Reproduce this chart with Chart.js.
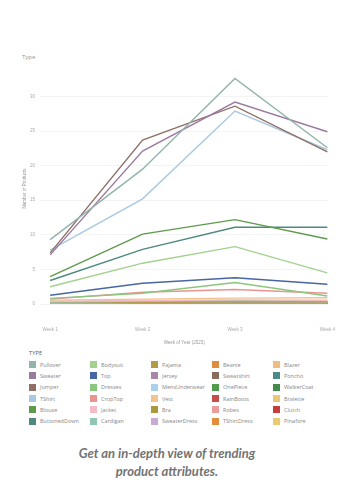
<!DOCTYPE html>
<html>
<head>
<meta charset="utf-8">
<script src="https://cdn.jsdelivr.net/npm/chart.js@4/dist/chart.umd.min.js"></script>
<style>
  html, body { margin: 0; padding: 0; background: #fff; }
  #page { position: relative; width: 350px; height: 483px; overflow: hidden; font-family: "Open Sans", sans-serif; }
  #chart-wrap { position: absolute; left: 0; top: 40px; width: 350px; height: 305px; }
  #type-title { position: absolute; left: 22px; top: 53px; font-size: 6px; color: #999; }
  #legend-head { position: absolute; left: 29px; top: 349px; font-size: 5.5px; color: #555; letter-spacing: 0.2px; }
  #legend { position: absolute; left: 29px; top: 359px; display: grid; grid-auto-flow: column;
            grid-template-rows: repeat(6, 11.3px); grid-template-columns: repeat(5, 61px); }
  .item { display: flex; align-items: center; font-size: 5.5px; color: #888; white-space: nowrap; }
  .sw { width: 7px; height: 7px; margin-right: 4px; flex: none; }
  #tagline { position: absolute; left: 0; width: 334px; top: 444px; text-align: center;
             font-family: Lato, sans-serif; font-weight: bold; font-style: italic; font-size: 13px;
             line-height: 18px; color: #737373; }
</style>
</head>
<body>
<div id="page">
  <div id="type-title">Type</div>
  <div id="chart-wrap"><canvas id="trendChart"></canvas></div>
  <div id="legend-head">TYPE</div>
  <div id="legend"></div>
  <div id="tagline">Get an in-depth view of trending<br>product attributes.</div>
</div>
<script>
// Week labels along the x axis
const weeks = ['Week 1', 'Week 2', 'Week 3', 'Week 4'];

// Product types, legend order (column by column)
const types = [
  'Pullover', 'Sweater', 'Jumper', 'TShirt', 'Blouse', 'ButtonedDown',
  'Bodysuit', 'Top', 'Dresses', 'CropTop', 'Jacket', 'Cardigan',
  'Pajama', 'Jersey', 'MensUnderwear', 'Vest', 'Bra', 'SweaterDress',
  'Beanie', 'Sweatshirt', 'OnePiece', 'RainBoots', 'Robes', 'TShirtDress',
  'Blazer', 'Poncho', 'WalkerCoat', 'Bralette', 'Clutch', 'Pinafore'
];

const typeColors = [
  '#93b3ab', '#9b7aa0', '#8f6f66', '#a9c8e2', '#5e9a4c', '#4d8a7c',
  '#a3d18e', '#4766a2', '#8cc67e', '#e9948e', '#f1bcc8', '#92c6b4',
  '#b39b45', '#a886aa', '#acd0ea', '#f3c28e', '#a99b3d', '#c9abd2',
  '#e08c3e', '#8a6b5c', '#519b4b', '#c74d4d', '#e99d9d', '#e18d3c',
  '#f3bb84', '#4b8b89', '#418c4c', '#e9ca74', '#c83c3c', '#ebca72'
];

// Number of products per week, one row per type (same order as types)
const weekValues = [
  [9.3, 19.5, 32.6, 22.6],
  [7.1, 22.1, 29.2, 24.9],
  [7.4, 23.7, 28.6, 22.0],
  [7.8, 15.2, 27.9, 22.3],
  [3.95, 10.1, 12.2, 9.4],
  [3.4, 7.9, 11.1, 11.1],
  [2.5, 5.9, 8.3, 4.5],
  [1.26, 3.0, 3.8, 2.85],
  [0.82, 1.55, 3.1, 1.15],
  [0.7, 1.7, 2.1, 1.55],
  [0.4, 0.5, 0.6, 0.55],
  [0.3, 0.4, 0.5, 0.45],
  [0.2, 0.25, 0.3, 0.3],
  [0.25, 0.3, 0.35, 0.4],
  [0.15, 0.2, 0.2, 0.2],
  [0.55, 0.7, 0.85, 0.9],
  [0.1, 0.1, 0.15, 0.15],
  [0.3, 0.35, 0.4, 0.35],
  [0.05, 0.1, 0.1, 0.1],
  [0.2, 0.2, 0.25, 0.2],
  [0.1, 0.15, 0.15, 0.1],
  [0.05, 0.05, 0.1, 0.05],
  [0.1, 0.1, 0.1, 0.1],
  [0.05, 0.05, 0.05, 0.05],
  [0.1, 0.1, 0.15, 0.1],
  [0.05, 0.05, 0.05, 0.05],
  [0.02, 0.02, 0.03, 0.02],
  [0.02, 0.02, 0.02, 0.02],
  [0.01, 0.01, 0.02, 0.01],
  [0.01, 0.01, 0.01, 0.01]
];

const yTicks = [0, 5, 10, 15, 20, 25, 30];

// draw small ones first so the big trends sit on top
const datasets = types.map((name, i) => ({
  label: name,
  data: weekValues[i].map((v, w) => ({ x: w, y: v })),
  borderColor: typeColors[i],
  backgroundColor: typeColors[i],
  borderWidth: 1.4,
  pointRadius: 0,
  tension: 0,
  order: i
}));

new Chart(document.getElementById('trendChart'), {
  type: 'line',
  data: { datasets: datasets },
  options: {
    responsive: true, maintainAspectRatio: false, animation: false,
    layout: { padding: { top: 33, right: 15, left: 0, bottom: 0 } },
    plugins: { legend: { display: false }, tooltip: { enabled: false } },
    scales: {
      x: {
        type: 'linear', min: -0.11, max: 3.01,
        grid: { display: false }, border: { display: false },
        afterBuildTicks: s => { s.ticks = weeks.map((w, i) => ({ value: i })); },
        afterFit: s => { s.height = 41; },
        ticks: { padding: 15, maxRotation: 0, font: { size: 4.5 }, color: '#aaa',
                 callback: v => weeks[v] },
        title: { display: true, text: 'Week of Year (2023)', color: '#999',
                 font: { size: 4.5 }, padding: { top: 8, bottom: 0 } }
      },
      y: {
        min: 0, max: 33.4,
        grid: { color: '#f1f1f1', lineWidth: 0.8, drawTicks: false }, border: { display: false },
        afterBuildTicks: s => { s.ticks = yTicks.map(v => ({ value: v })); },
        afterFit: s => { s.width = 40; },
        ticks: { padding: 5, font: { size: 4.5 }, color: '#aaa', includeBounds: false },
        title: { display: true, text: 'Number of Products', color: '#999',
                 font: { size: 4.5 }, padding: { top: 22, bottom: 0 } }
      }
    }
  }
});

// HTML legend, column-major like the reference
const legendEl = document.getElementById('legend');
types.forEach((name, i) => {
  const item = document.createElement('div');
  item.className = 'item';
  item.innerHTML = `<span class="sw" style="background:${typeColors[i]}"></span>${name}`;
  legendEl.appendChild(item);
});
</script>
</body>
</html>
